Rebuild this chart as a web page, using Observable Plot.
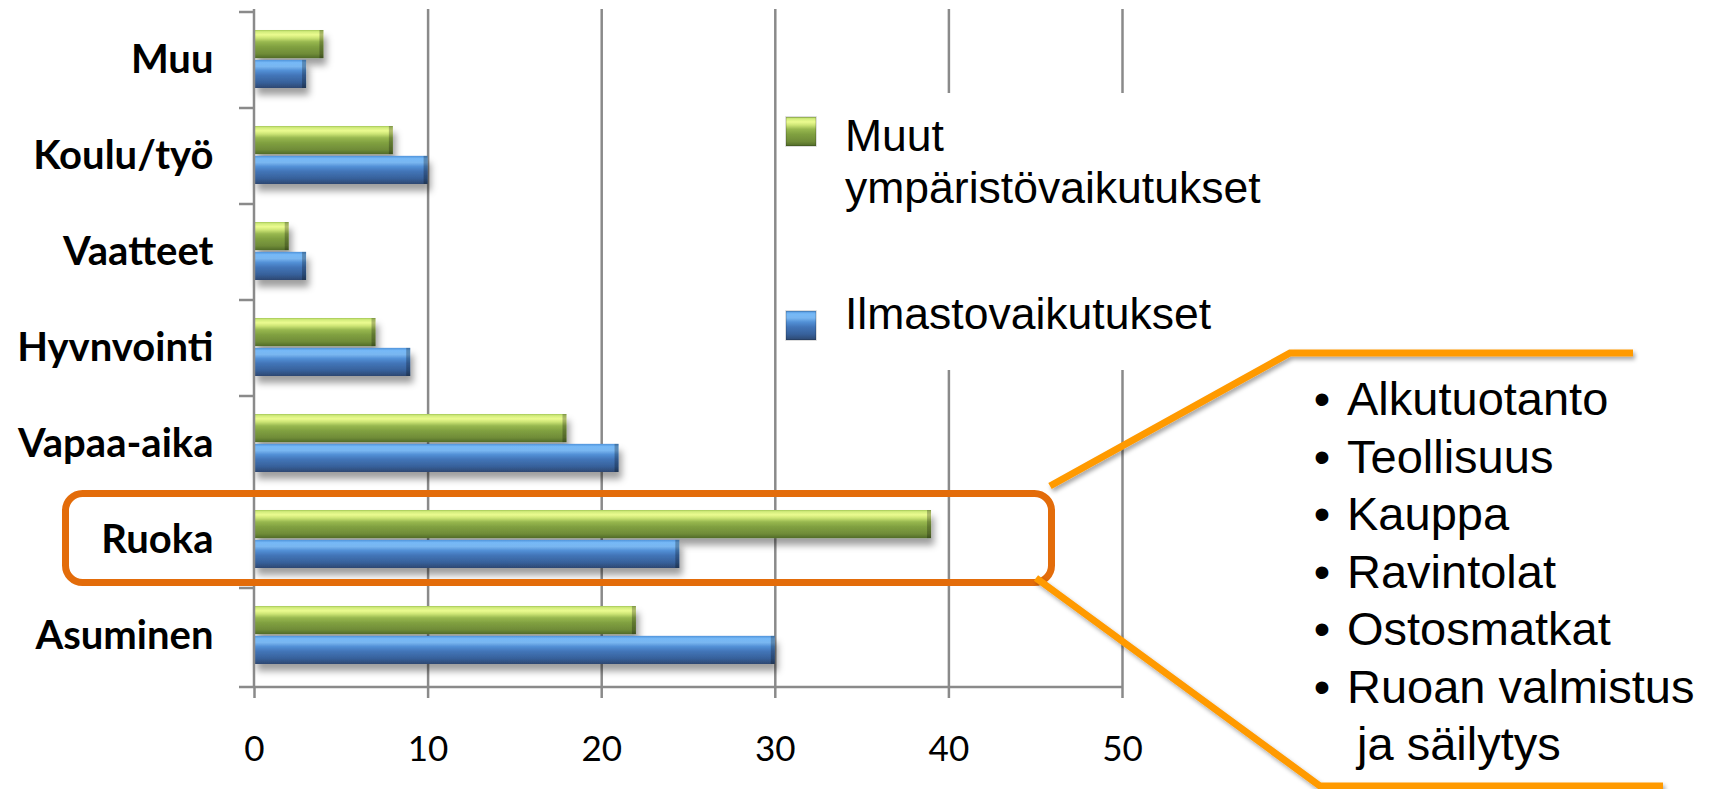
<!DOCTYPE html>
<html>
<head>
<meta charset="utf-8">
<script src="https://cdn.jsdelivr.net/npm/d3@7"></script>
<script src="https://cdn.jsdelivr.net/npm/@observablehq/plot@0.6"></script>
<style>
  html, body { margin: 0; padding: 0; background: #fff; }
  #chart { width: 1713px; height: 789px; overflow: hidden; }
</style>
</head>
<body>
<div id="chart"></div>
<script>
// ---- data ----
const categories = ["Muu", "Koulu/työ", "Vaatteet", "Hyvnvointi", "Vapaa-aika", "Ruoka", "Asuminen"];
const muutValues = [4, 8, 2, 7, 18, 39, 22];          // Muut ympäristövaikutukset (green)
const ilmastoValues = [3, 10, 3, 9, 21, 24.5, 30];    // Ilmastovaikutukset (blue)
const seriesNames = ["Muut ympäristövaikutukset", "Ilmastovaikutukset"];
const legendLines = [["Muut", "ympäristövaikutukset"], ["Ilmastovaikutukset"]];
const xTicks = [0, 10, 20, 30, 40, 50];
const highlightCategory = "Ruoka";
const bulletItems = [["Alkutuotanto"], ["Teollisuus"], ["Kauppa"], ["Ravintolat"], ["Ostosmatkat"], ["Ruoan valmistus", "ja säilytys"]];

const rows = categories.flatMap((c, i) => [
  {cat: c, series: seriesNames[0], value: muutValues[i]},
  {cat: c, series: seriesNames[1], value: ilmastoValues[i]}
]);

// ---- layout ----
const W = 1713, H = 789;
const mTop = 9, mBottom = 102, mLeft = 254, mRight = 591;
const band = (H - mTop - mBottom) / categories.length;
const barH = 29;
const gridColor = "#8a8a8a";

const plot = Plot.plot({
  width: W, height: H,
  marginLeft: mLeft, marginRight: mRight, marginTop: mTop, marginBottom: mBottom,
  style: {background: "white", fontFamily: "Lato, sans-serif", overflow: "visible"},
  x: {domain: [0, 50]},
  y: {domain: categories, padding: 0},
  marks: [
    Plot.gridX(xTicks.slice(1), {stroke: gridColor, strokeOpacity: 1, strokeWidth: 2.5}),
    Plot.barX(rows.filter(d => d.series === seriesNames[0]), {
      x: "value", y: "cat", fill: "url(#gradGreen)",
      insetTop: 18, insetBottom: band - 18 - barH
    }),
    Plot.barX(rows.filter(d => d.series === seriesNames[1]), {
      x: "value", y: "cat", fill: "url(#gradBlue)",
      insetTop: band - 20 - barH, insetBottom: 20
    }),
    Plot.axisX({ticks: xTicks, tickSize: 11, tickPadding: 38, fontSize: 35, stroke: gridColor, strokeWidth: 2.5, fill: "black", label: null}),
    Plot.axisY({tickSize: 0, tickPadding: 41, fontSize: 40, fontWeight: "bold", fill: "black", label: null})
  ]
});

document.getElementById("chart").appendChild(plot);

const svg = d3.select(plot);
const xs = plot.scale("x"), ys = plot.scale("y");
const x0 = xs.apply(0), x50 = xs.apply(50);
const yTop = mTop, yBot = H - mBottom;

// ---- defs: gradients & shadows ----
const defs = svg.insert("defs", ":first-child");
function grad(id, stops) {
  const g = defs.append("linearGradient").attr("id", id).attr("x1", 0).attr("y1", 0).attr("x2", 0).attr("y2", 1);
  stops.forEach(([o, c]) => g.append("stop").attr("offset", o).attr("stop-color", c));
}
grad("gradGreen", [[0, "#a3c657"], [0.06, "#d2ec7c"], [0.17, "#ebfb90"], [0.28, "#cde575"], [0.42, "#98b84f"], [0.6, "#80a040"], [0.85, "#6f8b38"], [1, "#506a28"]]);
grad("gradBlue", [[0, "#4f93da"], [0.1, "#76b9f7"], [0.24, "#79b6f0"], [0.38, "#5290d6"], [0.55, "#4275b8"], [0.8, "#37619b"], [1, "#2d4871"]]);
const f = defs.append("filter").attr("id", "barShadow").attr("x", "-5%").attr("y", "-30%").attr("width", "115%").attr("height", "190%");
f.append("feDropShadow").attr("dx", 3).attr("dy", 7).attr("stdDeviation", 3.5).attr("flood-color", "#000").attr("flood-opacity", 0.38);
const f2 = defs.append("filter").attr("id", "lineShadow").attr("x", "-10%").attr("y", "-10%").attr("width", "130%").attr("height", "130%");
f2.append("feDropShadow").attr("dx", 2).attr("dy", 3).attr("stdDeviation", 2).attr("flood-color", "#000").attr("flood-opacity", 0.35);

// shadows on bars, bevel on right end
svg.selectAll('g[aria-label="bar"]').attr("filter", "url(#barShadow)");
svg.selectAll('g[aria-label="bar"] rect').each(function () {
  const r = d3.select(this);
  const bx = +r.attr("x"), bw = +r.attr("width"), by = +r.attr("y"), bh = +r.attr("height");
  d3.select(this.parentNode).append("rect")
    .attr("x", bx + bw - 4).attr("y", by).attr("width", 4).attr("height", bh)
    .attr("fill", "#000").attr("fill-opacity", 0.25);
});

// ---- axis lines & category ticks ----
const axisG = svg.append("g").attr("stroke", gridColor).attr("stroke-width", 2.5);
axisG.append("line").attr("x1", x0).attr("x2", x0).attr("y1", yTop).attr("y2", yBot);
axisG.append("line").attr("x1", x0 - 15).attr("x2", x50).attr("y1", yBot).attr("y2", yBot);
categories.forEach(c => {
  const yy = ys.apply(c);
  axisG.append("line").attr("x1", x0 - 15).attr("x2", x0).attr("y1", yy).attr("y2", yy);
});

// ---- legend (white box hides grid lines) ----
const gridNode = svg.select('g[aria-label="x-grid"]').node();
const legendBg = document.createElementNS("http://www.w3.org/2000/svg", "rect");
gridNode.after(legendBg);
d3.select(legendBg).attr("x", 779).attr("y", 93).attr("width", 520).attr("height", 277).attr("fill", "white");

const legend = svg.append("g").attr("font-family", "'Liberation Sans', Arial, sans-serif").attr("font-size", 44.5)
  .attr("fill", "black").attr("text-anchor", "start");
const legendY = [[151, 203], [329]];
const legendMarkY = [117, 311];
const legendFill = ["url(#gradGreen)", "url(#gradBlue)"];
legendLines.forEach((lines, i) => {
  legend.append("rect").attr("x", 786).attr("y", legendMarkY[i]).attr("width", 30).attr("height", 29)
    .attr("fill", legendFill[i]).attr("stroke", "#000").attr("stroke-opacity", 0.18).attr("stroke-width", 1.5);
  lines.forEach((t, j) => legend.append("text").attr("x", 845).attr("y", legendY[i][j]).text(t));
});

// ---- highlight box around the chosen category ----
const ann = svg.append("g");
const hy = ys.apply(highlightCategory);
ann.append("rect").attr("x", 65.5).attr("y", hy + 1.5).attr("width", 986).attr("height", 89)
  .attr("rx", 17).attr("fill", "none").attr("stroke", "#e36c0a").attr("stroke-width", 7);

// ---- callout lines ----
const callout = ann.append("g").attr("fill", "none").attr("stroke", "#ff9a00").attr("stroke-width", 7).attr("filter", "url(#lineShadow)");
callout.append("polyline").attr("points", "1050,486 1290,353 1633,353");
callout.append("polyline").attr("points", "1036,578 1320,786 1663,786");

// ---- bullet list ----
const list = svg.append("g").attr("font-family", "'Liberation Sans', Arial, sans-serif").attr("font-size", 47)
  .attr("fill", "black").attr("text-anchor", "start");
let lineIdx = 0;
const baseY = 415, lineStep = 57.5;
bulletItems.forEach(item => {
  item.forEach((t, j) => {
    const by = baseY + lineIdx * lineStep;
    if (j === 0) list.append("text").attr("x", 1322).attr("y", by).attr("text-anchor", "middle").text("•");
    list.append("text").attr("x", j === 0 ? 1347 : 1357).attr("y", by).text(t);
    lineIdx++;
  });
});
</script>
</body>
</html>
